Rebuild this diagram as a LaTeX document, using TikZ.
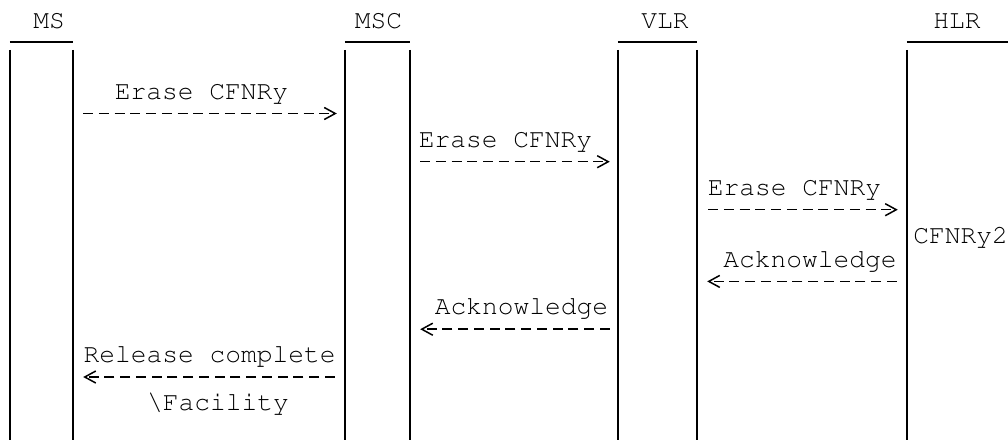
\documentclass[tikz,border=0pt]{standalone}
\usepackage[T1]{fontenc}
\usepackage{courier}
\usepackage{tikz}
\usetikzlibrary{arrows.meta}

\tikzset{
  lbl/.style={font=\ttfamily\fontsize{26.25}{24}\selectfont, inner sep=0pt, anchor=base},
  life/.style={minimum height=390pt, inner sep=0pt},
  bar/.style={line width=2pt},
  msg/.style={line width=1.5pt, dash pattern=on 10pt off 5.75pt,
    -{Straight Barb[length=11pt,width=12pt]}},
}

\begin{document}
\begin{tikzpicture}[x=1pt, y=-1pt]
    \useasboundingbox (0,0) rectangle (1008,440);
    % lifelines
    \node[life, minimum width=63pt] (ms) at (41.5,245) {};
    \node[life, minimum width=65pt] (msc) at (377.5,245) {};
    \node[life, minimum width=79pt] (vlr) at (657.5,245) {};
    \node[life, minimum width=101pt] (hlr) at (957.5,245) {};
    \foreach \e in {ms, msc, vlr} {
      \draw[bar] ([yshift=8pt]\e.north west) -- ([yshift=8pt]\e.north east);
      \draw[bar] (\e.north west) -- (\e.south west);
      \draw[bar] (\e.north east) -- (\e.south east);
    }
    \draw[bar] ([yshift=8pt]hlr.north west) -- ([yshift=8pt]hlr.north east);
    \draw[bar] (hlr.north west) -- (hlr.south west); % no right side shown
    % names
    \node[lbl] (msname) at (49,28) {MS};
    \node[lbl] (mscname) at (378.5,28) {MSC};
    \node[lbl] (vlrname) at (665,28) {VLR};
    \node[lbl] (hlrname) at (957,28) {HLR};
    % erase requests
    \node[lbl] (erase1) at (201.5,99.7) {Erase CFNRy};
    \draw[msg] ([xshift=10pt]ms.east |- 0,113.5) -- ([xshift=-8pt]msc.west |- 0,113.5);
    \node[lbl] (erase2) at (505.5,147.5) {Erase CFNRy};
    \draw[msg] ([xshift=10pt]msc.east |- 0,161.7) -- ([xshift=-8pt]vlr.west |- 0,161.7);
    \node[lbl] (erase3) at (794.5,195.3) {Erase CFNRy};
    \draw[msg] ([xshift=11pt]vlr.east |- 0,209.7) -- ([xshift=-9pt]hlr.west |- 0,209.7);
    \node[lbl] (state) at (960.5,243.1) {CFNRy2};
    % answers
    \node[lbl] (ack1) at (810,267) {Acknowledge};
    \draw[msg] ([xshift=-10pt]hlr.west |- 0,281.4) -- ([xshift=10pt]vlr.east |- 0,281.4);
    \node[lbl] (ack2) at (521.5,314.8) {Acknowledge};
    \draw[msg] ([xshift=-8pt]vlr.west |- 0,329.2) -- ([xshift=10pt]msc.east |- 0,329.2);
    \node[lbl] (release) at (209.5,362.6) {Release complete};
    \draw[msg] ([xshift=-10pt]msc.west |- 0,377) -- ([xshift=10pt]ms.east |- 0,377);
    \node[lbl] (facility) at (218,410.4) {\textbackslash Facility};
\end{tikzpicture}
\end{document}
